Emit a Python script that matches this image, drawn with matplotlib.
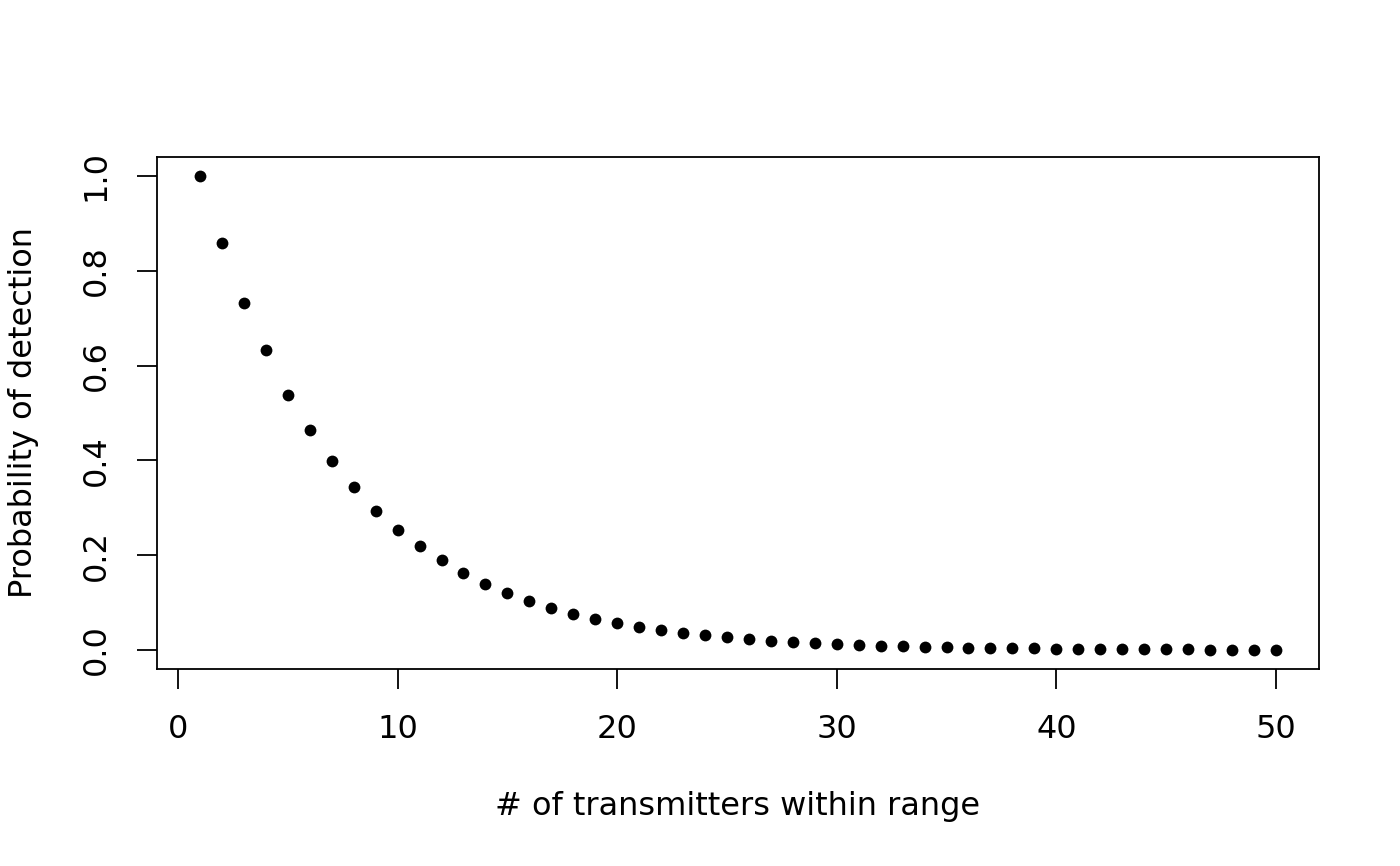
import matplotlib
matplotlib.use("Agg")
import matplotlib.pyplot as plt
import numpy as np

# number of transmitters within range (x) and detection probability (y),
# read off the reference picture
n_tx = list(range(1, 51))
p_detect = [1.000, 0.858, 0.733, 0.632, 0.537, 0.465, 0.398, 0.344, 0.294, 0.253,
            0.219, 0.189, 0.162, 0.139, 0.120, 0.104, 0.088, 0.076, 0.065, 0.056,
            0.048, 0.042, 0.036, 0.031, 0.027, 0.023, 0.020, 0.017, 0.015, 0.013,
            0.011, 0.0095, 0.0082, 0.0070, 0.0060, 0.0052, 0.0045, 0.0039, 0.0033, 0.0029,
            0.0025, 0.0021, 0.0018, 0.0016, 0.0014, 0.0012, 0.0010, 0.0009, 0.0008, 0.0007]
x_ticks = [0, 10, 20, 30, 40, 50]
y_ticks = [0.0, 0.2, 0.4, 0.6, 0.8, 1.0]

plt.rcParams["font.family"] = ["DejaVu Sans"]
FS = 23

fig = plt.figure(figsize=(14, 8.66), dpi=100)
ax = fig.add_axes([0.1121, 0.2275, 0.8300, 0.5912])

ax.plot(n_tx, p_detect, "o", color="black", ms=8.5, mew=0)

# R-style 4% axis extension
ax.set_xlim(1 - 0.04 * 49, 50 + 0.04 * 49)
ax.set_ylim(-0.04, 1.04)

ax.set_xticks(x_ticks)
ax.set_xticklabels([str(v) for v in x_ticks], fontsize=FS)
ax.set_yticks(y_ticks)
ax.set_yticklabels([f"{v:.1f}" for v in y_ticks], fontsize=FS,
                   rotation=90, va="center")
ax.tick_params(direction="out", length=14.5, width=1.3, color="black")
ax.tick_params(axis="x", pad=18)
ax.tick_params(axis="y", pad=18)
for s in ax.spines.values():
    s.set_linewidth(1.3)

ax.set_xlabel("# of transmitters within range", fontsize=FS, labelpad=33)
ax.set_ylabel("Probability of detection", fontsize=FS, labelpad=30)

fig.savefig("out.png", dpi=100)
